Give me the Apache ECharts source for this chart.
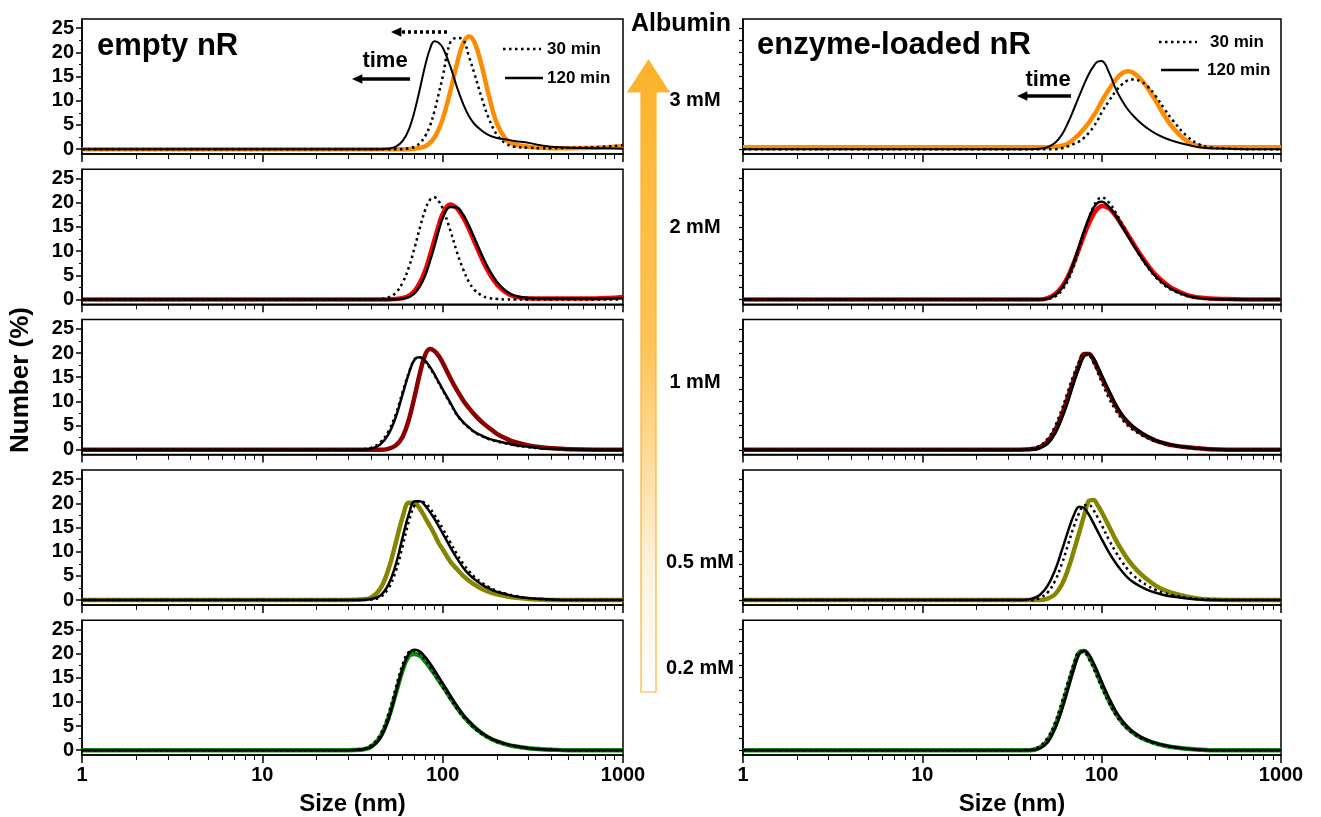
<!DOCTYPE html>
<html><head><meta charset="utf-8">
<script src="https://cdn.jsdelivr.net/npm/echarts@6/dist/echarts.min.js"></script>
<style>html,body{margin:0;padding:0;background:#fff}#c{width:1321px;height:817px}</style>
</head><body><div id="c"></div>
<script>
// ---------- data ----------
const sizes = [1,30,35,40,45,50,55,60,65,70,75,80,85,90,95,100,110,120,130,140,150,165,180,200,225,250,300,350,400,500,700,1000];
const xMajorTicks = [1,10,100,1000];
const xMinorTicks = [2,3,4,5,6,7,8,9,20,30,40,50,60,70,80,90,200,300,400,500,600,700,800,900];
const yLabelTicks = [0,5,10,15,20,25];
const yMinorTicks = [2.5,7.5,12.5,17.5,22.5];
const yRightTicks = [0,2.5,5,7.5,10,12.5,15,17.5,20,22.5,25];
const concLabels = ['3 mM','2 mM','1 mM','0.5 mM','0.2 mM'];
const panelColors = ['#FF8C00','#FF0000','#8B0000','#858500','#0A8A0A'];

// empty nR (left column)
const empty3_t0   = [0,0,0,0,0,0,0,0,0,0.1,0.3,0.6,1.3,2.4,4.1,6.2,11.8,17.7,21.9,23.3,22.1,17.1,11.2,5.3,2.0,1.0,0.5,0.3,0.2,0.2,0.3,0.6];
const empty3_t30  = [0,0,0,0,0,0,0,0,0.2,0.5,1.3,2.7,4.8,7.8,11.4,14.9,22.0,23.0,22.6,19.1,15.6,10.5,6.4,3.0,1.1,0.5,0.3,0.2,0.2,0.3,0.4,0.8];
const empty3_t120 = [0,0,0,0,0,0.1,0.5,1.7,4.1,8.0,12.7,17.3,20.7,22.3,22.0,21.0,17.2,12.8,9.3,6.8,5.2,3.8,2.9,2.3,2.0,1.7,1.3,0.8,0.5,0.3,0.2,0.1];
const empty2_t0   = [0,0,0,0,0,0,0.1,0.3,0.8,1.8,3.6,6.0,9.1,12.3,15.3,17.7,19.6,18.8,16.9,14.5,11.9,8.4,5.6,3.1,1.4,0.6,0.2,0.2,0.2,0.2,0.2,0.5];
const empty2_t30  = [0,0,0,0,0.1,0.4,1.4,3.5,6.7,10.8,15.0,18.5,20.6,21.1,20.3,18.8,14.4,9.8,6.2,3.6,2.0,0.8,0.3,0.1,0,0,0,0,0,0,0,0];
const empty2_t120 = [0,0,0,0,0,0,0,0.2,0.5,1.3,2.8,5.0,7.9,11.0,14.2,16.8,19.1,19.0,17.5,15.2,12.7,9.2,6.3,3.6,1.7,0.8,0.3,0.2,0.2,0.2,0.2,0.3];
const empty1_t0   = [0,0,0,0,0,0.2,0.9,2.7,6.3,11.1,16.0,19.6,20.8,20.4,19.4,18.0,14.9,12.3,10.2,8.6,7.3,5.7,4.6,3.3,2.3,1.6,0.9,0.5,0.3,0.1,0,0];
const empty1_t30  = [0,0,0.1,0.4,1.5,3.8,7.4,12.0,16.0,18.7,19.0,18.2,16.9,15.4,13.8,12.3,9.6,7.2,5.6,4.5,3.6,2.8,2.2,1.7,1.3,0.9,0.5,0.3,0.2,0.1,0,0];
const empty1_t120 = [0,0,0,0.2,1.1,3.2,6.8,11.5,15.8,18.7,19.1,18.4,17.1,15.6,14.0,12.5,9.8,7.3,5.7,4.6,3.7,2.9,2.3,1.8,1.4,1.0,0.6,0.3,0.2,0.1,0,0];
const empty05_t0  = [0,0,0.1,0.5,2.3,6.3,11.9,17.2,20.1,20.0,18.8,17.0,15.3,13.6,11.8,10.5,8.0,6.4,5.0,4.0,3.2,2.3,1.7,1.2,0.8,0.5,0.2,0.1,0,0,0,0];
const empty05_t30 = [0,0,0,0.1,0.6,2.4,6.0,11.2,16.3,19.6,20.5,20.0,19.0,17.6,16.2,14.8,12.0,9.5,7.5,6.0,4.8,3.6,2.7,1.9,1.3,0.9,0.4,0.2,0.1,0,0,0];
const empty05_t120= [0,0,0,0.2,0.9,3.2,7.4,13.0,17.8,20.4,20.4,19.5,18.2,16.8,15.3,13.8,11.0,8.6,6.7,5.3,4.3,3.2,2.4,1.7,1.2,0.8,0.4,0.2,0.1,0,0,0];
const empty02_t0  = [0,0,0.1,0.7,2.7,6.6,11.8,16.6,19.5,19.9,19.5,18.4,17.1,15.8,14.5,13.3,10.9,8.8,7.1,5.8,4.7,3.5,2.6,1.8,1.2,0.8,0.4,0.2,0.1,0,0,0];
const empty02_t30 = [0,0,0.2,1.0,3.2,7.5,13.0,17.8,20.3,20.5,19.8,18.6,17.2,15.8,14.4,13.1,10.7,8.6,6.9,5.6,4.5,3.3,2.5,1.7,1.2,0.8,0.4,0.2,0.1,0,0,0];
const empty02_t120= [0,0,0.1,0.6,2.4,6.3,11.8,16.9,20.0,20.8,20.4,19.3,18.0,16.6,15.2,13.9,11.4,9.2,7.4,6.0,4.9,3.6,2.7,1.9,1.3,0.9,0.4,0.2,0.1,0,0,0];

// enzyme-loaded nR (right column)
const enz3_t0   = [0.4,0.4,0.4,0.4,0.4,0.4,0.5,0.7,1.2,2.1,3.1,4.3,5.5,6.9,8.3,9.9,12.4,14.4,15.7,16.1,15.8,14.5,12.7,10.0,6.8,4.4,1.6,0.6,0.4,0.4,0.4,0.4];
const enz3_t30  = [0,0,0,0,0,0,0,0.2,0.6,1.1,1.6,2.4,3.4,4.6,6.0,7.6,10.0,12.0,13.4,14.2,14.4,14.0,13.0,11.0,8.2,5.9,2.6,1.0,0.4,0.1,0,0];
const enz3_t120 = [0,0,0,0,0.1,0.4,1.3,3.0,5.5,8.3,11.0,13.5,15.6,17.1,18.1,18.2,15.8,12.4,10.0,8.2,6.9,5.4,4.3,3.2,2.3,1.7,0.9,0.4,0.2,0.1,0,0];
const enz2_t0   = [0,0,0,0,0,0.3,1.1,2.6,4.8,7.6,10.6,13.4,15.8,17.6,18.8,19.3,18.8,17.2,15.3,13.4,11.6,9.2,7.2,5.1,3.4,2.2,0.9,0.4,0.2,0.1,0,0];
const enz2_t30  = [0,0,0,0,0,0.1,0.6,1.9,4.0,7.0,10.5,13.9,16.9,19.2,20.6,21.1,20.0,17.9,15.6,13.4,11.4,8.8,6.7,4.6,2.9,1.8,0.7,0.3,0.1,0,0,0];
const enz2_t120 = [0,0,0,0,0,0.2,0.9,2.4,4.7,7.8,11.2,14.3,16.9,18.9,20.0,20.2,19.1,17.2,15.1,13.1,11.3,8.9,6.9,4.8,3.1,2.0,0.8,0.3,0.1,0,0,0];
const enz1_t0   = [0,0,0,0.1,0.5,1.7,4.0,7.3,11.0,14.6,17.6,19.8,19.8,18.6,16.8,15.0,11.8,9.0,7.0,5.6,4.6,3.5,2.7,1.9,1.3,0.9,0.5,0.3,0.1,0,0,0];
const enz1_t30  = [0,0,0,0.2,0.8,2.3,4.9,8.4,12.2,15.6,18.3,19.9,19.5,18.0,16.0,14.0,10.6,8.1,6.3,5.0,4.1,3.1,2.4,1.7,1.2,0.8,0.4,0.2,0.1,0,0,0];
const enz1_t120 = [0,0,0,0,0.3,1.2,3.3,6.4,10.0,13.8,17.0,19.3,19.8,19.0,17.3,15.5,12.2,9.4,7.3,5.9,4.8,3.7,2.8,2.0,1.4,1.0,0.5,0.3,0.1,0,0,0];
const enz05_t0  = [0,0,0,0,0,0.3,1.2,3.2,6.4,10.2,14.0,17.6,20.5,20.7,19.6,18.2,15.2,12.4,10.2,8.4,7.0,5.4,4.2,3.0,2.0,1.4,0.7,0.3,0.1,0,0,0];
const enz05_t30 = [0,0,0,0,0.4,1.6,4.0,7.5,11.5,15.2,18.0,19.6,19.6,18.6,17.1,15.5,12.4,9.9,7.9,6.3,5.1,3.9,3.0,2.1,1.4,1.0,0.5,0.2,0.1,0,0,0];
const enz05_t120= [0,0,0,0.2,1.0,3.0,6.2,10.3,14.3,17.6,19.3,19.0,17.6,15.9,14.2,12.6,9.8,7.6,5.9,4.6,3.7,2.8,2.1,1.5,1.0,0.7,0.3,0.1,0,0,0,0];
const enz02_t0  = [0,0,0,0,0.5,2.0,5.0,9.0,13.3,17.3,20.2,20.5,19.4,17.6,15.6,13.6,10.2,7.6,5.8,4.5,3.6,2.6,2.0,1.4,0.9,0.6,0.3,0.1,0,0,0,0];
const enz02_t30 = [0,0,0,0.1,0.8,2.6,5.8,10.0,14.3,18.0,20.3,20.2,18.8,16.9,14.9,12.9,9.7,7.2,5.5,4.3,3.4,2.5,1.9,1.3,0.9,0.6,0.3,0.1,0,0,0,0];
const enz02_t120= [0,0,0,0,0.3,1.6,4.4,8.3,12.7,16.8,19.9,20.6,19.8,18.1,16.2,14.2,10.8,8.1,6.2,4.8,3.8,2.8,2.1,1.5,1.0,0.7,0.3,0.1,0,0,0,0];

const panels = [
  {col:0,row:0,t0:empty3_t0,t30:empty3_t30,t120:empty3_t120},
  {col:0,row:1,t0:empty2_t0,t30:empty2_t30,t120:empty2_t120},
  {col:0,row:2,t0:empty1_t0,t30:empty1_t30,t120:empty1_t120},
  {col:0,row:3,t0:empty05_t0,t30:empty05_t30,t120:empty05_t120},
  {col:0,row:4,t0:empty02_t0,t30:empty02_t30,t120:empty02_t120},
  {col:1,row:0,t0:enz3_t0,t30:enz3_t30,t120:enz3_t120},
  {col:1,row:1,t0:enz2_t0,t30:enz2_t30,t120:enz2_t120},
  {col:1,row:2,t0:enz1_t0,t30:enz1_t30,t120:enz1_t120},
  {col:1,row:3,t0:enz05_t0,t30:enz05_t30,t120:enz05_t120},
  {col:1,row:4,t0:enz02_t0,t30:enz02_t30,t120:enz02_t120}
];

// ---------- layout ----------
const FONT = '"Liberation Sans", Arial, sans-serif';
const colLeft = [82, 743], colWidth = [541, 538];
const top0 = 19, pitch = 150.3, panelH = 135;
const yMin = -1, yMax = 26.9;

const grids = [], xAxes = [], yAxes = [], series = [];
panels.forEach((p, i) => {
  grids.push({left: colLeft[p.col], width: colWidth[p.col], top: top0 + pitch * p.row, height: panelH,
    show: true, borderColor: '#000', borderWidth: 1.5, backgroundColor: 'transparent'});
  const bottom = p.row === 4;
  const xi = xAxes.length;
  xAxes.push({type: 'log', logBase: 10, gridIndex: i, min: 1, max: 1000, position: 'bottom',
    axisLine: {show: true, onZero: false, lineStyle: {color: '#000', width: 1.5}},
    axisTick: {show: true, length: 8, customValues: xMajorTicks, lineStyle: {color: '#000', width: 1.5}},
    axisLabel: {show: bottom, customValues: xMajorTicks, formatter: v => String(Math.round(v)),
      color: '#000', fontSize: 20, fontWeight: 'bold', fontFamily: FONT, margin: 10},
    splitLine: {show: false},
    name: bottom ? 'Size (nm)' : '', nameLocation: 'middle', nameGap: 37,
    nameTextStyle: {color: '#000', fontSize: 24, fontWeight: 'bold', fontFamily: FONT, verticalAlign: 'top'}
  });
  xAxes.push({type: 'log', logBase: 10, gridIndex: i, min: 1, max: 1000, position: 'bottom',
    axisLine: {show: false, onZero: false}, axisLabel: {show: false}, splitLine: {show: false},
    axisTick: {show: true, length: 5, customValues: xMinorTicks, lineStyle: {color: '#000', width: 1}}
  });
  const yi = yAxes.length;
  if (p.col === 0) {
    yAxes.push({type: 'value', gridIndex: i, min: yMin, max: yMax, position: 'left',
      axisLine: {show: true, onZero: false, lineStyle: {color: '#000', width: 1.5}},
      axisTick: {show: true, length: 6, customValues: yLabelTicks, lineStyle: {color: '#000', width: 1.5}},
      axisLabel: {show: true, customValues: yLabelTicks, color: '#000', fontSize: 20, fontWeight: 'bold', fontFamily: FONT, margin: 8},
      splitLine: {show: false}});
    yAxes.push({type: 'value', gridIndex: i, min: yMin, max: yMax, position: 'left',
      axisLine: {show: false, onZero: false}, axisLabel: {show: false}, splitLine: {show: false},
      axisTick: {show: true, length: 3, customValues: yMinorTicks, lineStyle: {color: '#000', width: 1}}});
  } else {
    yAxes.push({type: 'value', gridIndex: i, min: yMin, max: yMax, position: 'left',
      axisLine: {show: true, onZero: false, lineStyle: {color: '#000', width: 1.5}},
      axisTick: {show: true, length: 4, customValues: yRightTicks, lineStyle: {color: '#000', width: 1.2}},
      axisLabel: {show: false}, splitLine: {show: false}});
  }
  const mk = arr => sizes.map((s, k) => [s, arr[k]]);
  const base = {type: 'line', xAxisIndex: xi, yAxisIndex: yi, showSymbol: false, symbol: 'none',
    smooth: 0.4, animation: false, silent: true};
  series.push(Object.assign({}, base, {name: 't0', data: mk(p.t0), z: 2,
    lineStyle: {color: panelColors[p.row], width: 4.5}}));
  series.push(Object.assign({}, base, {name: '120 min', data: mk(p.t120), z: 3,
    lineStyle: {color: '#000', width: p.row === 0 ? 2 : 2.5}}));
  series.push(Object.assign({}, base, {name: '30 min', data: mk(p.t30), z: 4,
    lineStyle: {color: '#000', width: 2.5, type: [2.5, 3.5]}}));
});

// ---------- decorations ----------
const txt = (text, x, y, size, align, extra) => Object.assign({type: 'text', x: x, y: y, silent: true,
  style: {text: text, font: 'bold ' + size + 'px ' + FONT, fill: '#000', textAlign: align || 'left', textVerticalAlign: 'middle'}}, extra || {});
const hline = (x1, x2, y, w, dash) => ({type: 'line', silent: true, shape: {x1: x1, y1: y, x2: x2, y2: y},
  style: {stroke: '#000', lineWidth: w, lineDash: dash || null}});
const headL = (x, y, s) => ({type: 'polygon', silent: true, shape: {points: [[x, y], [x + s * 1.3, y - s * 0.6], [x + s * 1.3, y + s * 0.6]]}, style: {fill: '#000'}});

const graphic = [
  txt('empty nR', 97, 46, 31),
  txt('enzyme-loaded nR', 757, 45, 31),
  txt('Albumin', 681, 24, 25, 'center'),
  txt('Number (%)', 21, 380, 26, 'center', {rotation: Math.PI / 2}),
  // left legend
  hline(503, 541, 49, 2.5, [2.5, 3.5]), txt('30 min', 547, 49, 17),
  hline(505, 543, 78, 2.5), txt('120 min', 547, 78, 17),
  // right legend
  hline(1159, 1197, 42, 2.5, [2.5, 3.5]), txt('30 min', 1210, 42, 17),
  hline(1161, 1199, 70, 2.5), txt('120 min', 1207, 70, 17),
  // time arrows
  txt('time', 385, 61, 22, 'center'),
  hline(362, 410, 79, 3.5), headL(352, 79, 8),
  hline(402, 448, 32, 3.5, [3, 3]), headL(391, 32, 8),
  txt('time', 1048, 80, 22, 'center'),
  hline(1027, 1071, 96, 3.5), headL(1017, 96, 8),
  // albumin arrow
  {type: 'polygon', silent: true,
   shape: {points: [[641, 692], [641, 92], [628, 92], [648.5, 60], [669, 92], [656, 92], [656, 692]]},
   style: {fill: new echarts.graphic.LinearGradient(0, 0, 0, 1, [
      {offset: 0, color: '#FDB32A'}, {offset: 0.45, color: '#FEC457'}, {offset: 0.8, color: '#FFF2DA'}, {offset: 1, color: '#FFFFFF'}]),
     stroke: '#F9B536', lineWidth: 1.2}}
];
concLabels.forEach((c, r) => {
  const ys = [100, 227, 382, 562, 668];
  graphic.push(txt(c, c.length > 4 ? 700 : 695, ys[r], 20, 'center'));
});

const chart = echarts.init(document.getElementById('c'), null, {renderer: 'canvas'});
chart.setOption({
  animation: false,
  backgroundColor: '#fff',
  grid: grids, xAxis: xAxes, yAxis: yAxes, series: series, graphic: graphic
});
</script>
</body></html>
